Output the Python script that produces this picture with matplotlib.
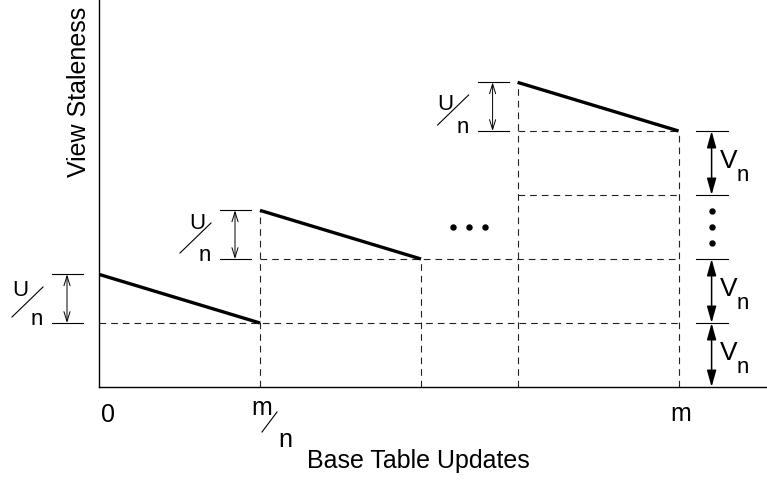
import matplotlib.pyplot as plt
from matplotlib.patches import FancyArrowPatch
from matplotlib.transforms import offset_copy

plt.rcParams['font.family'] = ['Liberation Sans', 'DejaVu Sans']

# x in units of m/n updates, y in units of V/n staleness
seg_start_x = [0.0, 1.0, 2.6]
seg_end_x = [1.0, 2.0, 3.6]
seg_low = [1.0, 2.0, 4.0]          # staleness right after a view refresh
u_step = 0.76                       # jump of U/n at each refresh
x_end = 3.6
v_levels = [1.0, 2.0, 3.0, 4.0]
v_arrow_spans = [(0.0, 1.0), (1.0, 2.0), (3.0, 4.0)]
v_dots_y = [2.25, 2.5, 2.75]
h_dots_x = [2.2, 2.3, 2.4]
h_dots_y = [2.5, 2.5, 2.5]
tick_pos = [0.0, 1.0, 3.6]

# pixels per data unit (fig is 767x489 at dpi 100)
PX_X = 161.0
PX_Y = 64.0

fig = plt.figure(figsize=(7.67, 4.89), dpi=100)
ax = fig.add_axes([99 / 767, 101 / 489, 668 / 767, 388 / 489])
ax.set_xlim(0, 668 / PX_X)
ax.set_ylim(0, 388 / PX_Y)
ax.set_xticks([])
ax.set_yticks([])
for s in ['top', 'right']:
    ax.spines[s].set_visible(False)
for s in ['left', 'bottom']:
    ax.spines[s].set_linewidth(1.0)


def at(dx=0, dy=0):
    # data transform shifted by pixels (dy positive = down)
    return offset_copy(ax.transData, fig=fig, x=dx, y=-dy, units='dots')


dash_kw = dict(color='#222222', lw=0.8, dashes=(6, 4.5), clip_on=False)
seg_high = [y + u_step for y in seg_low]

# dashed guides
for x0, y in zip(seg_start_x, seg_low):
    ax.plot([x0, x_end], [y, y], **dash_kw)
ax.plot([seg_start_x[2], x_end], [v_levels[2], v_levels[2]], **dash_kw)
for x0, top in zip(seg_start_x[1:], seg_high[1:]):
    ax.plot([x0, x0], [0, top], **dash_kw)
for x1, y in zip(seg_end_x[1:], seg_low[1:]):
    ax.plot([x1, x1], [0, y], **dash_kw)

# staleness segments
for x0, x1, y0, y1 in zip(seg_start_x, seg_end_x, seg_high, seg_low):
    ax.plot([x0, x1], [y0, y1], color='black', lw=2.4, solid_capstyle='butt')

# U/n markers
u_tick_dx = [-47, -40, -40]
u_text_dx = [-40, -31, -40]
u_text_dy = [21, 18, 27]
for i, (x0, lo, hi) in enumerate(zip(seg_start_x, seg_low, seg_high)):
    dx = u_tick_dx[i]
    xa = x0 + dx / PX_X
    xb = x0 + (dx + 31) / PX_X
    ax.plot([xa, xb], [hi, hi], color='black', lw=0.8, clip_on=False)
    ax.plot([xa, xb], [lo, lo], color='black', lw=0.8, clip_on=False)
    xm = x0 + (dx + 15) / PX_X
    ar = FancyArrowPatch((xm, lo), (xm, hi), arrowstyle='<->,head_length=7,head_width=2.2',
                         lw=0.7, color='black', shrinkA=0, shrinkB=0, clip_on=False)
    ax.add_patch(ar)
    ax.text(x0, hi, 'U', transform=at(dx + u_text_dx[i], u_text_dy[i]), fontsize=16,
            ha='left', va='baseline')
    ax.text(x0, lo, 'n', transform=at(dx - 21, 1), fontsize=16, ha='left', va='baseline')
    ax.plot([x0 + (dx - 40) / PX_X, x0 + (dx - 9) / PX_X],
            [lo + 6 / PX_Y, lo + 36 / PX_Y], color='black', lw=0.8, clip_on=False)

# V/n markers on the right
for y in v_levels:
    ax.plot([x_end + 17 / PX_X, x_end + 49 / PX_X], [y, y], color='black', lw=0.8, clip_on=False)
xv = x_end + 33 / PX_X
for lo, hi in v_arrow_spans:
    ar = FancyArrowPatch((xv, lo), (xv, hi), arrowstyle='<|-|>,head_length=10,head_width=2.8',
                         lw=1.1, color='black', shrinkA=0, shrinkB=0, clip_on=False)
    ax.add_patch(ar)
    mid = (lo + hi) / 2
    ax.text(x_end, mid, 'V', transform=at(41, 4), fontsize=19, ha='left', va='baseline')
    ax.text(x_end, mid, 'n', transform=at(58, 17), fontsize=16, ha='left', va='baseline')
ax.plot([xv] * len(v_dots_y), v_dots_y, 'o', color='black', ms=3.6, clip_on=False)
ax.plot(h_dots_x, h_dots_y, 'o', color='black', ms=3.6, clip_on=False)

# tick labels
ax.text(tick_pos[0], 0, '0', transform=at(9, 34), fontsize=18, ha='center', va='baseline')
ax.text(tick_pos[2], 0, 'm', transform=at(2, 33), fontsize=18, ha='center', va='baseline')
ax.text(tick_pos[1], 0, 'm', transform=at(2, 27), fontsize=18, ha='center', va='baseline')
ax.text(tick_pos[1], 0, 'n', transform=at(25, 59), fontsize=18, ha='center', va='baseline')
ax.plot([tick_pos[1] + 2 / PX_X, tick_pos[1] + 17 / PX_X], [-45 / PX_Y, -25 / PX_Y],
        color='black', lw=0.8, clip_on=False)

# axis titles
fig.text(418 / 767, 1 - 468 / 489, 'Base Table Updates', fontsize=18, ha='center', va='baseline')
fig.text(79 / 767, 1 - 92 / 489, 'View Staleness', fontsize=18, rotation=90, ha='center', va='center')

fig.savefig('out.png', dpi=100)
